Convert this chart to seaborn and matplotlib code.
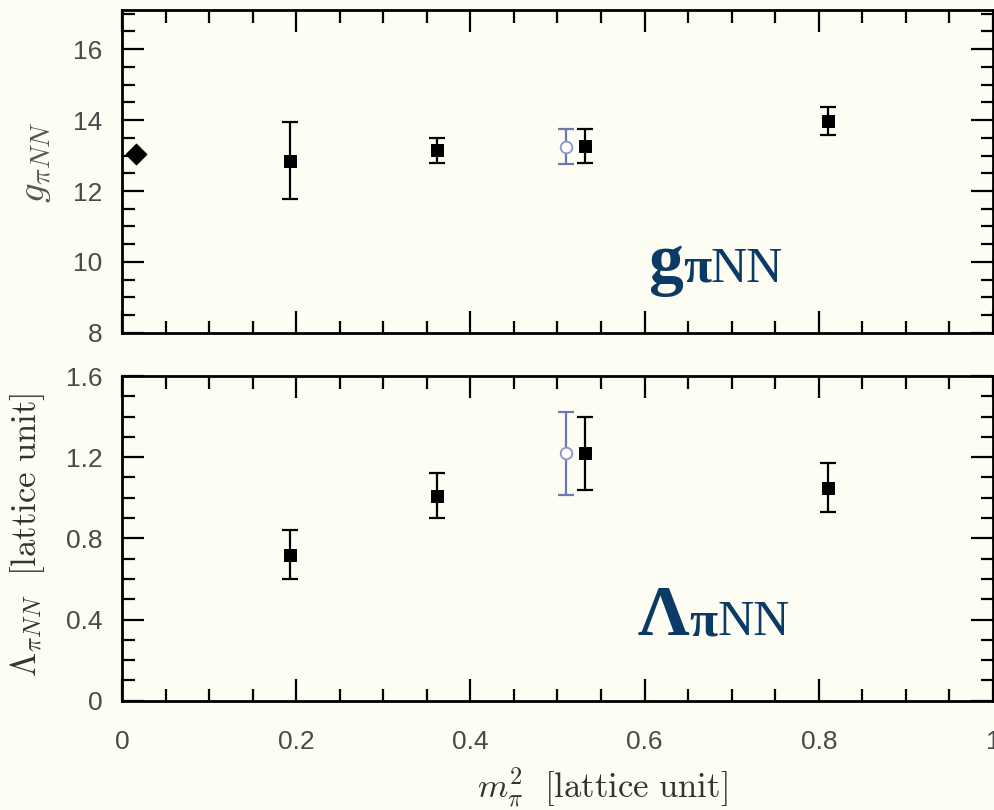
import numpy as np
import pandas as pd
import matplotlib
matplotlib.use("Agg")
import matplotlib.pyplot as plt
import seaborn as sns
from matplotlib.ticker import MultipleLocator, FuncFormatter

# ---- data ----
x_main = [0.193, 0.362, 0.532, 0.811]
g_main = [12.85, 13.15, 13.27, 13.97]
g_main_err = [1.08, 0.35, 0.47, 0.40]
lam_main = [0.72, 1.01, 1.22, 1.05]
lam_main_err = [0.12, 0.11, 0.18, 0.12]

x_open = [0.510]
g_open = [13.25]
g_open_err = [0.50]
lam_open = [1.22]
lam_open_err = [0.205]

x_phys = [0.016]
g_phys = [13.05]
g_phys_err = [0.08]

x_ticks = [0, 0.2, 0.4, 0.6, 0.8, 1.0]
g_ticks = [8, 10, 12, 14, 16]
lam_ticks = [0, 0.4, 0.8, 1.2, 1.6]

BG = "#fdfdf3"
BLUE = "#6b78b5"
TXT_BLUE = "#0b3a66"

sns.set_theme(style="ticks")
plt.rcParams["mathtext.fontset"] = "cm"
plt.rcParams["font.family"] = ["Liberation Sans", "DejaVu Sans"]

fig = plt.figure(figsize=(9.94, 8.10), dpi=100, facecolor=BG)
ax1 = fig.add_axes([0.1227, 0.5889, 0.999 - 0.1227, 0.9877 - 0.5889])
ax2 = fig.add_axes([0.1227, 0.1349, 0.999 - 0.1227, 0.5358 - 0.1349])

df_main_g = pd.DataFrame({"x": x_main, "y": g_main})
df_main_l = pd.DataFrame({"x": x_main, "y": lam_main})

def fmt(v, pos):
    s = f"{v:.1f}"
    if s.endswith(".0"):
        s = s[:-2]
    return s

for ax in (ax1, ax2):
    ax.set_facecolor(BG)
    for sp in ax.spines.values():
        sp.set_linewidth(2.0)
        sp.set_color("black")
        sp.set_visible(True)
    ax.set_xlim(0, 1.0)
    ax.xaxis.set_major_locator(MultipleLocator(0.2))
    ax.xaxis.set_minor_locator(MultipleLocator(0.05))
    ax.tick_params(which="both", direction="in", top=True, right=True,
                   width=1.6, color="black")
    ax.tick_params(which="major", length=16)
    ax.tick_params(which="minor", length=9)
    ax.tick_params(axis="both", labelsize=19, labelcolor="#4a4a4a")
    ax.tick_params(axis="y", pad=14)
    ax.tick_params(axis="x", pad=21)
    ax.xaxis.set_major_formatter(FuncFormatter(fmt))
    ax.yaxis.set_major_formatter(FuncFormatter(fmt))

# top panel
ax1.errorbar(x_main, g_main, yerr=g_main_err, fmt="none", ecolor="black",
             elinewidth=1.6, capsize=5.5, capthick=1.6, zorder=2)
ax1.errorbar(x_open, g_open, yerr=g_open_err, fmt="none", ecolor=BLUE,
             elinewidth=1.6, capsize=5.5, capthick=1.6, zorder=2)
ax1.errorbar(x_phys, g_phys, yerr=g_phys_err, fmt="none", ecolor="black",
             elinewidth=1.6, capsize=4, capthick=1.6, zorder=2)
sns.scatterplot(data=df_main_g, x="x", y="y", ax=ax1, marker="s", s=80,
                color="black", edgecolor="black", zorder=3)
sns.scatterplot(x=x_open, y=g_open, ax=ax1, marker="o", s=70,
                facecolor="white", edgecolor="#8a96c8", linewidth=1.3, zorder=3)
sns.scatterplot(x=x_phys, y=g_phys, ax=ax1, marker="D", s=110,
                color="black", edgecolor="black", zorder=3)
ax1.set_ylim(8, 17.1)
ax1.set_yticks(g_ticks)
ax1.yaxis.set_minor_locator(MultipleLocator(0.5))
ax1.tick_params(axis="x", labelbottom=False)
ax1.set_xlabel("")
ax1.set_ylabel(r"$g_{\pi NN}$", fontsize=28, color="#555555")
ax1.yaxis.set_label_coords(-0.079, 0.528)

# bottom panel
ax2.errorbar(x_main, lam_main, yerr=lam_main_err, fmt="none", ecolor="black",
             elinewidth=1.6, capsize=5.5, capthick=1.6, zorder=2)
ax2.errorbar(x_open, lam_open, yerr=lam_open_err, fmt="none", ecolor=BLUE,
             elinewidth=1.6, capsize=5.5, capthick=1.6, zorder=2)
sns.scatterplot(data=df_main_l, x="x", y="y", ax=ax2, marker="s", s=80,
                color="black", edgecolor="black", zorder=3)
sns.scatterplot(x=x_open, y=lam_open, ax=ax2, marker="o", s=70,
                facecolor="white", edgecolor="#8a96c8", linewidth=1.3, zorder=3)
ax2.set_ylim(0, 1.6)
ax2.set_yticks(lam_ticks)
ax2.yaxis.set_minor_locator(MultipleLocator(0.1))
ax2.set_xticks(x_ticks)
ax2.set_ylabel(r"$\Lambda_{\pi NN}\ \ [\mathrm{lattice\ unit}]$", fontsize=25,
               color="#333333")
ax2.yaxis.set_label_coords(-0.086, 0.51)
ax2.set_xlabel(r"$m_\pi^2\ \ [\mathrm{lattice\ unit}]$", fontsize=25,
               color="#333333")
ax2.xaxis.set_label_coords(0.551, -0.2)


def compound(ax, x0, y0, pieces):
    fig.canvas.draw()
    r = fig.canvas.get_renderer()
    x = x0
    for s, size, weight in pieces:
        t = ax.text(x, y0, s, transform=ax.transAxes, fontsize=size,
                    fontweight=weight, family=["Liberation Serif"],
                    color=TXT_BLUE, va="baseline", ha="left")
        bb = t.get_window_extent(r)
        x = ax.transAxes.inverted().transform((bb.x1, bb.y0))[0]

compound(ax1, 0.604, 0.158, [("g", 50, "bold"), ("π", 37, "bold"), ("NN", 36, "normal")])
compound(ax2, 0.592, 0.202, [("Λ", 52, "bold"), ("π", 37, "bold"), ("NN", 36, "normal")])

fig.savefig("out.png", dpi=100, facecolor=BG)
